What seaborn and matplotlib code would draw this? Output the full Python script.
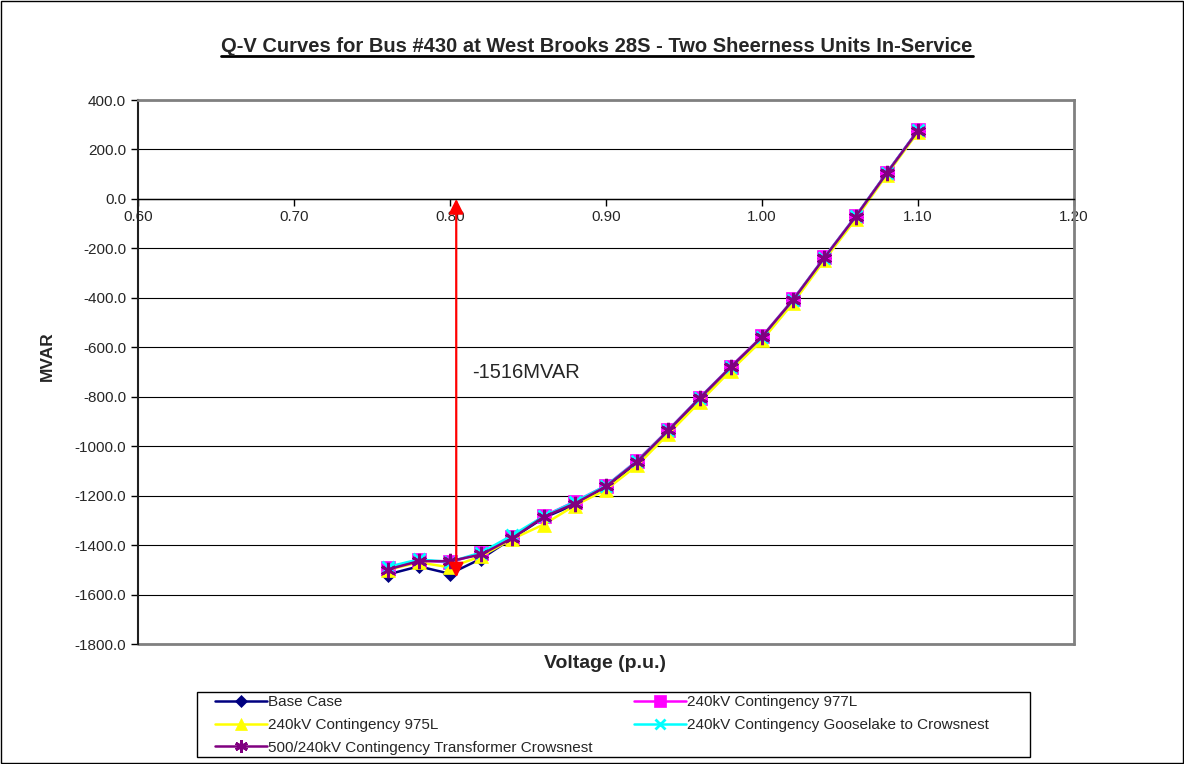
import matplotlib
matplotlib.use('Agg')
import pandas as pd
import matplotlib.pyplot as plt
import seaborn as sns
from matplotlib.patches import Rectangle
from matplotlib.lines import Line2D

# Dados
voltage = [0.76, 0.78, 0.80, 0.82, 0.84, 0.86, 0.88, 0.90, 0.92,
           0.94, 0.96, 0.98, 1.00, 1.02, 1.04, 1.06, 1.08, 1.10]
base_case = [-1519, -1486, -1516, -1455, -1372, -1290, -1236, -1167, -1066,
             -940, -810, -684, -562, -410, -240, -74, 104, 276]
cont_977l = [-1492, -1461, -1470, -1432, -1368, -1283, -1224, -1160, -1058,
             -934, -804, -678, -556, -406, -236, -70, 106, 278]
cont_975l = [-1500, -1470, -1490, -1445, -1375, -1317, -1240, -1176, -1078,
             -950, -822, -694, -572, -420, -248, -82, 98, 270]
cont_gooselake = [-1488, -1458, -1468, -1430, -1360, -1284, -1225, -1160, -1060,
                  -935, -805, -680, -558, -407, -237, -71, 105, 277]
cont_transformer = [-1499, -1465, -1465, -1438, -1372, -1286, -1232, -1163, -1062,
                    -936, -806, -680, -558, -408, -238, -72, 104, 276]

series_names = ['Base Case', '240kV Contingency 977L', '240kV Contingency 975L',
                '240kV Contingency Gooselake to Crowsnest',
                '500/240kV Contingency Transformer Crowsnest']
series_values = [base_case, cont_977l, cont_975l, cont_gooselake, cont_transformer]
colors = ['#000080', '#FF00FF', '#FFFF00', '#00FFFF', '#800080']
markers = ['D', 's', '^', 'x', (6, 2, 0)]
marker_sizes = [7, 10, 10, 9, 11]

# Anotação do ponto crítico
collapse_v = 0.80
collapse_q = -1516
collapse_label = '-1516MVAR'

df = pd.DataFrame({
    'voltage': voltage * len(series_names),
    'mvar': sum(series_values, []),
    'series': [n for n in series_names for _ in voltage],
})

sns.set_style('white')
plt.rcParams['font.family'] = ['Liberation Sans', 'DejaVu Sans']


def edge_w(m):
    return 2 if m in ('x', (6, 2, 0)) else 0.5


fig = plt.figure(figsize=(11.84, 7.64), dpi=100)
ax = fig.add_axes([138 / 1184, 1 - 644 / 764, (1074 - 138) / 1184, 544 / 764])

for name, col, mk, ms in zip(series_names, colors, markers, marker_sizes):
    sns.lineplot(data=df[df['series'] == name], x='voltage', y='mvar', ax=ax,
                 color=col, marker=mk, markersize=ms, markeredgewidth=edge_w(mk),
                 markeredgecolor=col, linewidth=1.8, legend=False)

ax.set_xlim(0.6, 1.2)
ax.set_ylim(-1800, 400)
ax.set_xticks([0.6, 0.7, 0.8, 0.9, 1.0, 1.1, 1.2])
ax.set_xticklabels(['%.2f' % v for v in ax.get_xticks()])
ax.set_yticks(range(-1800, 401, 200))
ax.set_yticklabels(['%.1f' % v for v in ax.get_yticks()])
ax.tick_params(axis='both', labelsize=11, length=5, width=1, direction='out',
               color='black', bottom=True, left=True)
ax.tick_params(axis='x', pad=3)

ax.yaxis.grid(True, color='black', linewidth=0.8)
ax.xaxis.grid(False)
ax.spines['bottom'].set_position(('data', 0))
ax.spines['bottom'].set_color('black')
ax.spines['bottom'].set_linewidth(1)
ax.spines['left'].set_color('#202020')
ax.spines['left'].set_linewidth(1.5)
for s in ['top', 'right']:
    ax.spines[s].set_color('#808080')
    ax.spines[s].set_linewidth(2)
ax.axhline(-1800, color='#808080', linewidth=2, clip_on=False)

ax.set_xlabel('')
ax.set_ylabel('')
fig.text(47 / 1184, 1 - 356 / 764, 'MVAR', rotation=90, fontsize=12.5, fontweight='bold',
         ha='center', va='center')
fig.text(605 / 1184, 1 - 664 / 764, 'Voltage (p.u.)', fontsize=14, fontweight='bold',
         ha='center', va='center')

# Seta vermelha
ax.annotate('', xy=(collapse_v + 0.004, 0), xytext=(collapse_v + 0.004, collapse_q - 15),
            arrowprops=dict(arrowstyle='<|-|>', color='red', lw=1.6, mutation_scale=22,
                            shrinkA=0, shrinkB=0))
ax.text(0.814, -700, collapse_label, fontsize=14.5, ha='left', va='center')

# Título sublinhado
title = fig.text(597 / 1184, 1 - 46 / 764,
                 'Q-V Curves for Bus #430 at West Brooks 28S - Two Sheerness Units In-Service',
                 fontsize=14.5, fontweight='bold', ha='center', va='center')
fig.canvas.draw()
bb = title.get_window_extent().transformed(fig.transFigure.inverted())
fig.add_artist(Line2D([bb.x0, bb.x1], [bb.y0 - 0.001, bb.y0 - 0.001], color='black',
                      linewidth=2, transform=fig.transFigure))

# Legenda (ordem por linhas, como no Excel)
order = [0, 2, 4, 1, 3]
leg_handles = [Line2D([], [], color=colors[i], marker=markers[i],
                      markersize=marker_sizes[i] * 0.85, markeredgecolor=colors[i],
                      linewidth=1.8, markeredgewidth=edge_w(markers[i])) for i in order]
leg = fig.legend(handles=leg_handles, labels=[series_names[i] for i in order],
                 ncol=2, fontsize=11, loc='upper left',
                 bbox_to_anchor=(212 / 1184, 1 - 692 / 764),
                 frameon=False, handlelength=3.4, handletextpad=0.05,
                 columnspacing=2.75, borderpad=0.2, labelspacing=0.58, borderaxespad=0)
fig.add_artist(Rectangle((197 / 1184, 1 - 757 / 764), (1030 - 197) / 1184, 65 / 764,
                         transform=fig.transFigure, fill=False, edgecolor='black',
                         linewidth=1))

# Borda da figura
fig.add_artist(Rectangle((0.001, 0.001), 0.998, 0.998, transform=fig.transFigure,
                         fill=False, edgecolor='black', linewidth=1))

plt.savefig('out.png', dpi=100)
plt.close()
